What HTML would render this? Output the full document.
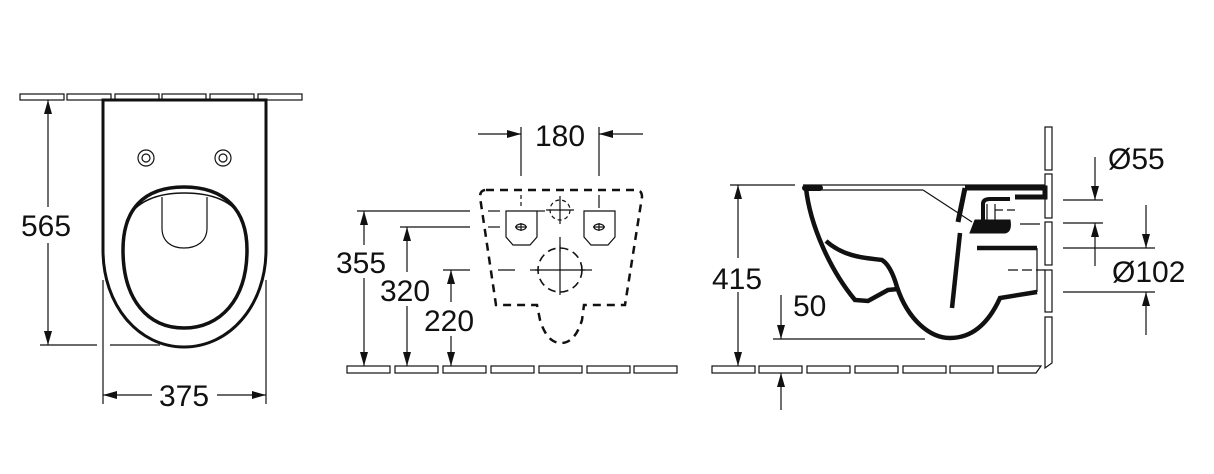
<!DOCTYPE html>
<html><head><meta charset="utf-8"><style>
html,body{margin:0;padding:0;background:#fff;}
svg{display:block;}
text{font-family:"Liberation Sans",Arial,sans-serif;font-size:30px;fill:#111;}
</style></head><body>
<svg width="1214" height="474" viewBox="0 0 1214 474" xmlns="http://www.w3.org/2000/svg">
<defs>
<marker id="a" markerWidth="14" markerHeight="8" refX="14" refY="4" orient="auto" markerUnits="userSpaceOnUse"><path d="M0,0 L14,4 L0,8 Z" fill="#111"/></marker>
</defs>
<g fill="none" stroke="#111" stroke-width="1.2">
<rect x="20" y="94" width="44" height="6"/><rect x="67" y="94" width="44" height="6"/><rect x="115" y="94" width="44" height="6"/><rect x="162" y="94" width="44" height="6"/><rect x="210" y="94" width="44" height="6"/><rect x="258" y="94" width="44" height="6"/>
<path d="M103,100 L266,100 L266,250 C266,305 230,347 184,347 C138,347 103,305 103,250 Z" stroke-width="3"/>
<circle cx="146" cy="158" r="8"/><circle cx="146" cy="158" r="4"/>
<circle cx="223" cy="158" r="8"/><circle cx="223" cy="158" r="4"/>
<path d="M184,187 C225,187 247,210 247,250 C247,300 220,328 184,328 C148,328 123,300 123,250 C123,210 143,187 184,187 Z" stroke-width="3.5"/>
<path d="M126,222 C135,200 160,193 184,193 C210,193 235,200 243,222" stroke-width="1.5"/>
<path d="M162,197 L162,228 C162,242 172,248 184,248 C196,248 207,242 207,228 L207,197"/>
<line x1="48" y1="207" x2="48" y2="100" marker-end="url(#a)"/>
<line x1="48" y1="243" x2="48" y2="345" marker-end="url(#a)"/>
<line x1="40" y1="345" x2="97" y2="345"/><line x1="110" y1="345" x2="160" y2="345"/>
<line x1="103" y1="280" x2="103" y2="404"/><line x1="266" y1="280" x2="266" y2="404"/>
<line x1="152" y1="395" x2="103" y2="395" marker-end="url(#a)"/>
<line x1="217" y1="395" x2="266" y2="395" marker-end="url(#a)"/>

<rect x="347" y="366" width="43" height="7"/><rect x="395" y="366" width="43" height="7"/><rect x="443" y="366" width="43" height="7"/><rect x="491" y="366" width="43" height="7"/><rect x="539" y="366" width="43" height="7"/><rect x="587" y="366" width="43" height="7"/><rect x="634" y="366" width="43" height="7"/>
<path d="M486,190 L636,190 Q642,190 642,197 L625,305 L584,305 L582,320 Q575,343 561,343 Q547,343 540,320 L537,305 L496,305 L480,197 Q480,190 486,190 Z" stroke-width="2.5" stroke-dasharray="8,6"/>
<path d="M506,211 L537,211 L537,237 L530,245 L513,245 L506,237 Z"/>
<path d="M584,211 L615,211 L615,237 L608,245 L591,245 L584,237 Z"/>
<ellipse cx="521" cy="227" rx="5" ry="3"/><line x1="515" y1="227" x2="527" y2="227"/><line x1="521" y1="223" x2="521" y2="231"/>
<ellipse cx="599" cy="227" rx="5" ry="3"/><line x1="593" y1="227" x2="605" y2="227"/><line x1="599" y1="223" x2="599" y2="231"/>
<circle cx="560" cy="210" r="10" stroke-dasharray="4,3"/>
<line x1="560" y1="196" x2="560" y2="224"/><line x1="546" y1="210" x2="574" y2="210"/>
<circle cx="560" cy="270" r="22" stroke-width="1.6" stroke-dasharray="8,5"/>
<line x1="560" y1="245" x2="560" y2="295"/><line x1="535" y1="270" x2="585" y2="270"/>
<line x1="560" y1="237" x2="560" y2="252"/>
<line x1="521" y1="127" x2="521" y2="176"/><line x1="599" y1="127" x2="599" y2="176"/>
<line x1="478" y1="134" x2="521" y2="134" marker-end="url(#a)"/>
<line x1="643" y1="134" x2="599" y2="134" marker-end="url(#a)"/>
<line x1="521" y1="195" x2="521" y2="208" stroke-dasharray="4,3"/><line x1="599" y1="195" x2="599" y2="208"/>
<line x1="357" y1="211" x2="470" y2="211"/><line x1="488" y1="211" x2="500" y2="211"/><line x1="537" y1="211" x2="545" y2="211"/>
<line x1="400" y1="227" x2="470" y2="227"/><line x1="488" y1="227" x2="500" y2="227"/>
<line x1="443" y1="270" x2="470" y2="270"/><line x1="498" y1="270" x2="515" y2="270"/><line x1="530" y1="270" x2="540" y2="270"/><line x1="580" y1="270" x2="592" y2="270"/>
<line x1="364" y1="245" x2="364" y2="211" marker-end="url(#a)"/><line x1="364" y1="278" x2="364" y2="366" marker-end="url(#a)"/>
<line x1="407" y1="272" x2="407" y2="227" marker-end="url(#a)"/><line x1="407" y1="306" x2="407" y2="366" marker-end="url(#a)"/>
<line x1="451" y1="302" x2="451" y2="270" marker-end="url(#a)"/><line x1="451" y1="336" x2="451" y2="366" marker-end="url(#a)"/>

<rect x="712" y="366" width="43" height="7"/><rect x="759" y="366" width="43" height="7"/><rect x="807" y="366" width="43" height="7"/><rect x="855" y="366" width="43" height="7"/><rect x="903" y="366" width="43" height="7"/><rect x="950" y="366" width="43" height="7"/><path d="M998,366 L1041,366 L1036,373 L998,373 Z"/>
<rect x="1045" y="127" width="7" height="43"/><rect x="1045" y="174" width="7" height="44"/><rect x="1045" y="222" width="7" height="43"/><rect x="1045" y="270" width="7" height="42"/><path d="M1045,317 L1052,317 L1052,363 L1045,368 Z"/>
<line x1="803" y1="185" x2="1045" y2="185"/>
<line x1="822" y1="190" x2="923" y2="190"/><line x1="923" y1="190" x2="972" y2="222"/>
<path d="M805,188 L820,188" stroke-width="6" stroke-linecap="round"/>
<path d="M806,188 C810,225 830,270 855,300 L868,301 L888,290 L898,289" stroke-width="4.5"/>
<path d="M826,241 C845,258 868,258 882,260 C890,265 895,280 897,287" stroke-width="4.5"/>
<path d="M897,287 C908,320 930,338 950,338 C975,338 990,320 1000,298 L1037,292" stroke-width="4.5"/>
<path d="M977,248 L1037,248" stroke-width="4.5"/>
<line x1="1037" y1="248" x2="1037" y2="292"/>
<path d="M960,233 L952,308" stroke-width="4.5"/>
<path d="M975,220 L1010,220 Q1012,232 1005,233 L970,233 Z" fill="#111" stroke-width="1"/>
<path d="M965,188 L1045,188 L1045,197 L1015,197 M965,188 L958,222" stroke-width="5"/>
<path d="M983,220 L983,204 Q983,199 990,199 L1010,199" stroke-width="4"/>
<line x1="987" y1="204" x2="987" y2="220"/><line x1="995" y1="204" x2="995" y2="220"/>
<line x1="995" y1="210" x2="1015" y2="210" stroke-dasharray="8,4"/><line x1="1020" y1="224" x2="1040" y2="224"/>
<line x1="1008" y1="270" x2="1045" y2="270" stroke-dasharray="10,4"/>
<line x1="730" y1="185" x2="795" y2="185"/>
<line x1="738" y1="258" x2="738" y2="185" marker-end="url(#a)"/>
<line x1="738" y1="292" x2="738" y2="366" marker-end="url(#a)"/>
<line x1="773" y1="339" x2="925" y2="339"/>
<line x1="781" y1="295" x2="781" y2="339" marker-end="url(#a)"/>
<line x1="781" y1="410" x2="781" y2="373" marker-end="url(#a)"/>
<line x1="1063" y1="200" x2="1103" y2="200"/><line x1="1063" y1="223" x2="1103" y2="223"/>
<line x1="1095" y1="157" x2="1095" y2="200" marker-end="url(#a)"/>
<line x1="1095" y1="266" x2="1095" y2="223" marker-end="url(#a)"/>
<line x1="1063" y1="248" x2="1155" y2="248"/><line x1="1063" y1="292" x2="1155" y2="292"/>
<line x1="1146" y1="205" x2="1146" y2="248" marker-end="url(#a)"/>
<line x1="1146" y1="335" x2="1146" y2="292" marker-end="url(#a)"/>
</g>
<text x="21" y="236">565</text>
<text x="184" y="406" text-anchor="middle">375</text>
<text x="560" y="146" text-anchor="middle">180</text>
<text x="336" y="273">355</text>
<text x="380" y="301">320</text>
<text x="424" y="331">220</text>
<text x="712" y="289">415</text>
<text x="793" y="316">50</text>
<text x="1108" y="169">Ø55</text>
<text x="1112" y="282">Ø102</text>
</svg>
</body></html>
